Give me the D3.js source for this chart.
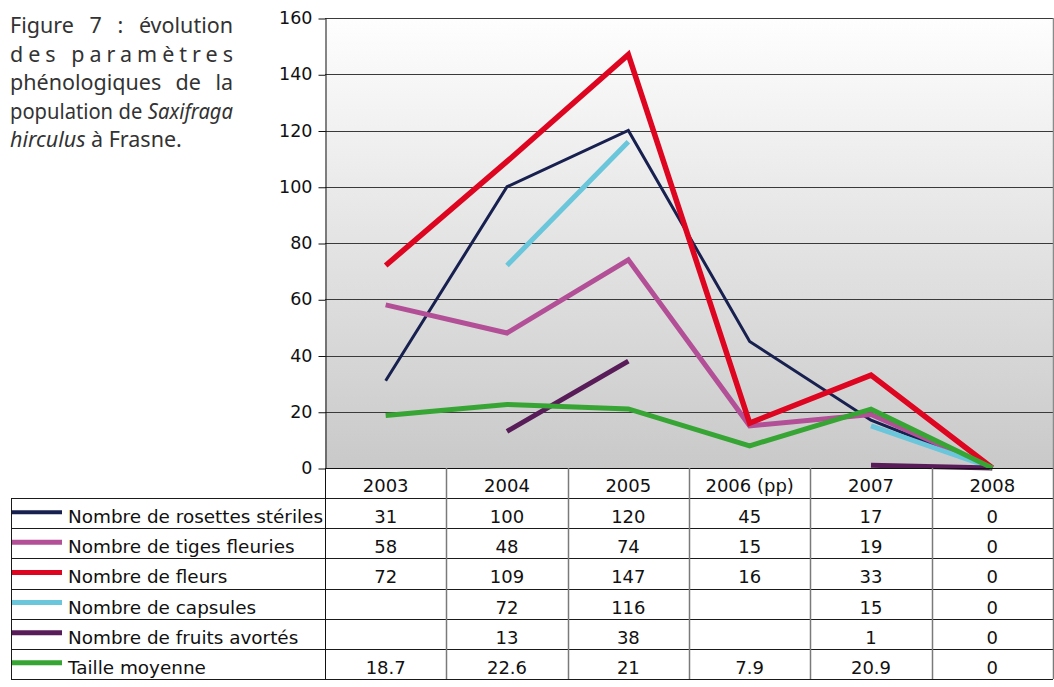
<!DOCTYPE html>
<html>
<head>
<meta charset="utf-8">
<script src="https://cdn.jsdelivr.net/npm/d3@7"></script>
<style>
  html, body { margin: 0; padding: 0; background: #fff; }
  svg { display: block; }
</style>
</head>
<body>
<svg id="chart" width="1054" height="687"></svg>
<script>
// Years (columns of the data table)
const categories = ["2003", "2004", "2005", "2006 (pp)", "2007", "2008"];

// Series values (null = not recorded)
const rosettes = [31, 100, 120, 45, 17, 0];
const tiges    = [58, 48, 74, 15, 19, 0];
const fleurs   = [72, 109, 147, 16, 33, 0];
const capsules = [null, 72, 116, null, 15, 0];
const fruits   = [null, 13, 38, null, 1, 0];
const taille   = [18.7, 22.6, 21, 7.9, 20.9, 0];

const seriesNames = [
  "Nombre de rosettes stériles",
  "Nombre de tiges fleuries",
  "Nombre de fleurs",
  "Nombre de capsules",
  "Nombre de fruits avortés",
  "Taille moyenne"
];
const seriesValues = [rosettes, tiges, fleurs, capsules, fruits, taille];
const seriesColors = ["#17204f", "#b24f96", "#dd0520", "#6ac6da", "#581d58", "#37a533"];
const seriesWidths = [3, 5, 5.5, 5, 5, 5];

const yTicks = [0, 20, 40, 60, 80, 100, 120, 140, 160];

const captionLines = [
  [{t: "Figure"}, {t: "7"}, {t: ":"}, {t: "évolution"}],
  [{t: "des paramètres", spread: true}],
  [{t: "phénologiques"}, {t: "de"}, {t: "la"}],
  [{t: "population"}, {t: "de"}, {t: "Saxifraga", i: true}],
  [{t: "hirculus", i: true}, {t: "à"}, {t: "Frasne."}]
];

const svg = d3.select("#chart");
const plot = {left: 325, right: 1053, top: 18, bottom: 468};
const table = {left: 11, right: 1053, top: 468, bottom: 679};
const FONT = "'DejaVu Sans', Verdana, sans-serif";

const x = d3.scaleBand().domain(categories).range([plot.left, plot.right]);
const xc = c => x(c) + x.bandwidth() / 2;
const y = d3.scaleLinear().domain([0, 160]).range([plot.bottom, plot.top]);

// Plot background gradient
const defs = svg.append("defs");
const grad = defs.append("linearGradient").attr("id", "bg")
  .attr("x1", 0).attr("y1", 0).attr("x2", 0).attr("y2", 1);
grad.append("stop").attr("offset", "0%").attr("stop-color", "#fefefe");
grad.append("stop").attr("offset", "100%").attr("stop-color", "#c9c9c9");

svg.append("rect")
  .attr("x", plot.left).attr("y", plot.top)
  .attr("width", plot.right - plot.left).attr("height", plot.bottom - plot.top)
  .attr("fill", "url(#bg)");

// Horizontal gridlines
svg.append("g").selectAll("line").data(yTicks.filter(d => d > 0)).join("line")
  .attr("x1", plot.left).attr("x2", plot.right)
  .attr("y1", d => Math.round(y(d)) + 0.5).attr("y2", d => Math.round(y(d)) + 0.5)
  .attr("stroke", "#3a3a3a").attr("stroke-width", 1);

// Right border of plot area
svg.append("line")
  .attr("x1", plot.right + 0.5).attr("x2", plot.right + 0.5)
  .attr("y1", plot.top).attr("y2", plot.bottom)
  .attr("stroke", "#8a8a8a").attr("stroke-width", 1.5);

// Y axis
const yAxis = svg.append("g")
  .attr("transform", `translate(${plot.left + 0.5},0)`)
  .call(d3.axisLeft(y).tickValues(yTicks).tickSize(7).tickSizeOuter(0).tickPadding(6));
yAxis.select(".domain").attr("stroke", "#111");
yAxis.selectAll(".tick line").attr("stroke", "#111").attr("transform", "translate(0,0.5)");
yAxis.selectAll(".tick text")
  .attr("font-family", FONT).attr("font-size", 17.5).attr("fill", "#111");

// Series lines
const line = d3.line()
  .defined(d => d.v !== null)
  .x(d => xc(d.c))
  .y(d => y(d.v));

const linesG = svg.append("g");
seriesValues.forEach((vals, i) => {
  linesG.append("path")
    .datum(vals.map((v, k) => ({c: categories[k], v})))
    .attr("d", line)
    .attr("fill", "none")
    .attr("stroke", seriesColors[i])
    .attr("stroke-width", seriesWidths[i])
    .attr("stroke-linejoin", "miter")
    .attr("stroke-miterlimit", 10)
    .attr("stroke-linecap", "butt");
});

// Data table
const rows = d3.scaleBand().domain(d3.range(seriesNames.length + 1))
  .range([table.top, table.bottom]);
const rowH = rows.bandwidth();
const tg = svg.append("g");

// horizontal rules
tg.append("line")
  .attr("x1", plot.left).attr("x2", table.right)
  .attr("y1", table.top + 0.5).attr("y2", table.top + 0.5)
  .attr("stroke", "#111");
d3.range(1, seriesNames.length + 2).forEach(r => {
  const yy = Math.round(table.top + r * rowH) + 0.5;
  tg.append("line")
    .attr("x1", table.left).attr("x2", table.right)
    .attr("y1", yy).attr("y2", yy)
    .attr("stroke", "#1a1a1a");
});
// vertical rules
tg.append("line")
  .attr("x1", table.left + 0.5).attr("x2", table.left + 0.5)
  .attr("y1", table.top + rowH).attr("y2", table.bottom)
  .attr("stroke", "#1a1a1a");
tg.append("line")
  .attr("x1", plot.left + 0.5).attr("x2", plot.left + 0.5)
  .attr("y1", table.top).attr("y2", table.bottom)
  .attr("stroke", "#111");
categories.forEach(c => {
  const xx = Math.round(x(c) + x.bandwidth()) + 0.5;
  tg.append("line")
    .attr("x1", xx).attr("x2", xx)
    .attr("y1", table.top).attr("y2", table.bottom)
    .attr("stroke", "#7a7a7a").attr("stroke-width", 1.5);
});

// header labels
tg.selectAll("text.hdr").data(categories).join("text")
  .attr("class", "hdr")
  .attr("x", d => xc(d)).attr("y", table.top + 24)
  .attr("text-anchor", "middle")
  .attr("font-family", FONT).attr("font-size", 18).attr("fill", "#111")
  .text(d => d);

// series rows
seriesNames.forEach((name, i) => {
  const top = rows(i + 1);
  tg.append("line")
    .attr("x1", 12).attr("x2", 62)
    .attr("y1", top + 14).attr("y2", top + 14)
    .attr("stroke", seriesColors[i]).attr("stroke-width", i === 0 ? 4 : 5);
  tg.append("text")
    .attr("x", 68).attr("y", top + 25)
    .attr("font-family", FONT).attr("font-size", 18.4).attr("fill", "#111")
    .text(name);
  tg.selectAll(null).data(seriesValues[i].map((v, k) => ({c: categories[k], v})))
    .join("text")
    .attr("x", d => xc(d.c)).attr("y", top + 25)
    .attr("text-anchor", "middle")
    .attr("font-family", FONT).attr("font-size", 18).attr("fill", "#111")
    .text(d => d.v === null ? "" : String(d.v));
});

// Figure caption, justified between x=10 and x=233
const cap = svg.append("g");
const capLeft = 10, capRight = 233, capTop = 33, capLead = 28.5;
const capWidth = capRight - capLeft;
const CAPFONT = "'Noto Sans', 'Open Sans', sans-serif";
const CAPSIZE = 21.5;
const MINGAP = 5.5;
captionLines.forEach((words, li) => {
  const yy = capTop + li * capLead;
  const last = li === captionLines.length - 1;
  if (words.length === 1 && words[0].spread) {
    cap.append("text")
      .attr("x", capLeft).attr("y", yy)
      .attr("font-family", CAPFONT).attr("font-size", CAPSIZE).attr("fill", "#333")
      .attr("textLength", capWidth).attr("lengthAdjust", "spacing")
      .text(words[0].t);
    return;
  }
  const nodes = words.map(w => cap.append("text")
    .attr("y", yy)
    .attr("font-family", CAPFONT).attr("font-size", CAPSIZE).attr("fill", "#333")
    .attr("font-style", w.i ? "italic" : "normal")
    .text(w.t));
  let widths = nodes.map(n => n.node().getComputedTextLength());
  const total = d3.sum(widths);
  const gaps = nodes.length - 1;
  let gap = last ? MINGAP : (capWidth - total) / gaps;
  if (!last && gap < MINGAP) {
    // line too long: condense the words slightly so it still fits
    const k = (capWidth - MINGAP * gaps) / total;
    widths = widths.map(w => w * k);
    nodes.forEach((n, j) => n.attr("textLength", widths[j]).attr("lengthAdjust", "spacingAndGlyphs"));
    gap = MINGAP;
  }
  let xx = capLeft;
  nodes.forEach((n, j) => { n.attr("x", xx); xx += widths[j] + gap; });
});
</script>
</body>
</html>
